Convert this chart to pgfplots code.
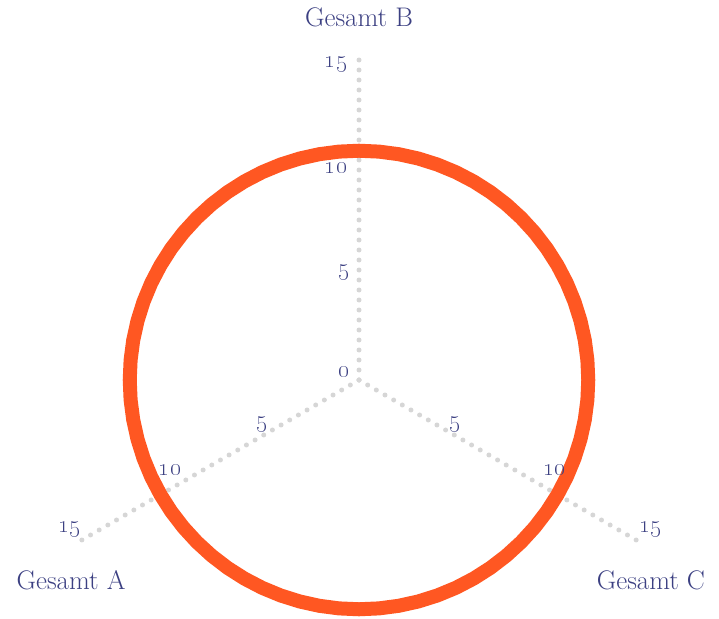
\documentclass[border=0pt]{standalone}
\usepackage{pgfplots}
\pgfplotsset{compat=1.18}
\definecolor{txt}{RGB}{60,64,130}
\definecolor{ring}{RGB}{255,87,34}
\definecolor{spoke}{RGB}{214,214,214}
\begin{document}
\begin{tikzpicture}
\begin{axis}[x=21.67bp, y=21.67bp, xmin=-16.567, xmax=16.613, ymin=-10.983, ymax=17.536,
  hide axis, clip=false]
% spokes (polar: angle, radius)
\addplot[data cs=polar, spoke, line width=5bp, line cap=round, dash pattern=on 0bp off 10bp] coordinates {(90,0) (90,15)};
\addplot[data cs=polar, spoke, line width=5bp, line cap=round, dash pattern=on 0bp off 10bp] coordinates {(210,0) (210,15)};
\addplot[data cs=polar, spoke, line width=5bp, line cap=round, dash pattern=on 0bp off 10bp] coordinates {(330,0) (330,15)};
% series: Gesamt A, B, C all about 10.58, drawn as a round line
\addplot[data cs=polar, ring, line width=14bp, line join=round] coordinates {
(0,10.58) (5,10.58) (10,10.58) (15,10.58) (20,10.58) (25,10.58) (30,10.58) (35,10.58) (40,10.58) (45,10.58)
(50,10.58) (55,10.58) (60,10.58) (65,10.58) (70,10.58) (75,10.58) (80,10.58) (85,10.58) (90,10.58) (95,10.58)
(100,10.58) (105,10.58) (110,10.58) (115,10.58) (120,10.58) (125,10.58) (130,10.58) (135,10.58) (140,10.58) (145,10.58)
(150,10.58) (155,10.58) (160,10.58) (165,10.58) (170,10.58) (175,10.58) (180,10.58) (185,10.58) (190,10.58) (195,10.58)
(200,10.58) (205,10.58) (210,10.58) (215,10.58) (220,10.58) (225,10.58) (230,10.58) (235,10.58) (240,10.58) (245,10.58)
(250,10.58) (255,10.58) (260,10.58) (265,10.58) (270,10.58) (275,10.58) (280,10.58) (285,10.58) (290,10.58) (295,10.58)
(300,10.58) (305,10.58) (310,10.58) (315,10.58) (320,10.58) (325,10.58) (330,10.58) (335,10.58) (340,10.58) (345,10.58)
(350,10.58) (355,10.58) (360,10.58) (5,10.58)};
% titles
\node[txt, font=\fontsize{27}{30}\selectfont] at (axis cs:0,16.75) {Gesamt B};
\node[txt, font=\fontsize{27}{30}\selectfont] at (axis cs:-13.29,-9.23) {Gesamt A};
\node[txt, font=\fontsize{27}{30}\selectfont] at (axis cs:13.47,-9.23) {Gesamt C};
% tick labels
\begin{scope}[every node/.style={txt, font=\fontsize{26}{29}\selectfont}]
\node at (axis cs:-0.69,0.37) {\oldstylenums{0}};
\node at (axis cs:-0.69,4.94) {\oldstylenums{5}};
\node at (axis cs:-1.06,9.78) {\oldstylenums{10}};
\node at (axis cs:-1.06,14.54) {\oldstylenums{15}};
\node at (axis cs:-4.48,-2.08) {\oldstylenums{5}};
\node at (axis cs:-8.72,-4.15) {\oldstylenums{10}};
\node at (axis cs:-13.34,-6.92) {\oldstylenums{15}};
\node at (axis cs:4.43,-2.08) {\oldstylenums{5}};
\node at (axis cs:9.04,-4.15) {\oldstylenums{10}};
\node at (axis cs:13.47,-6.92) {\oldstylenums{15}};
\end{scope}
\coordinate (ll) at (axis cs:-16.567,-10.983);
\coordinate (ur) at (axis cs:16.613,17.536);
\end{axis}
\pgfresetboundingbox
\path[use as bounding box] (ll) rectangle (ur);
\end{tikzpicture}
\end{document}
